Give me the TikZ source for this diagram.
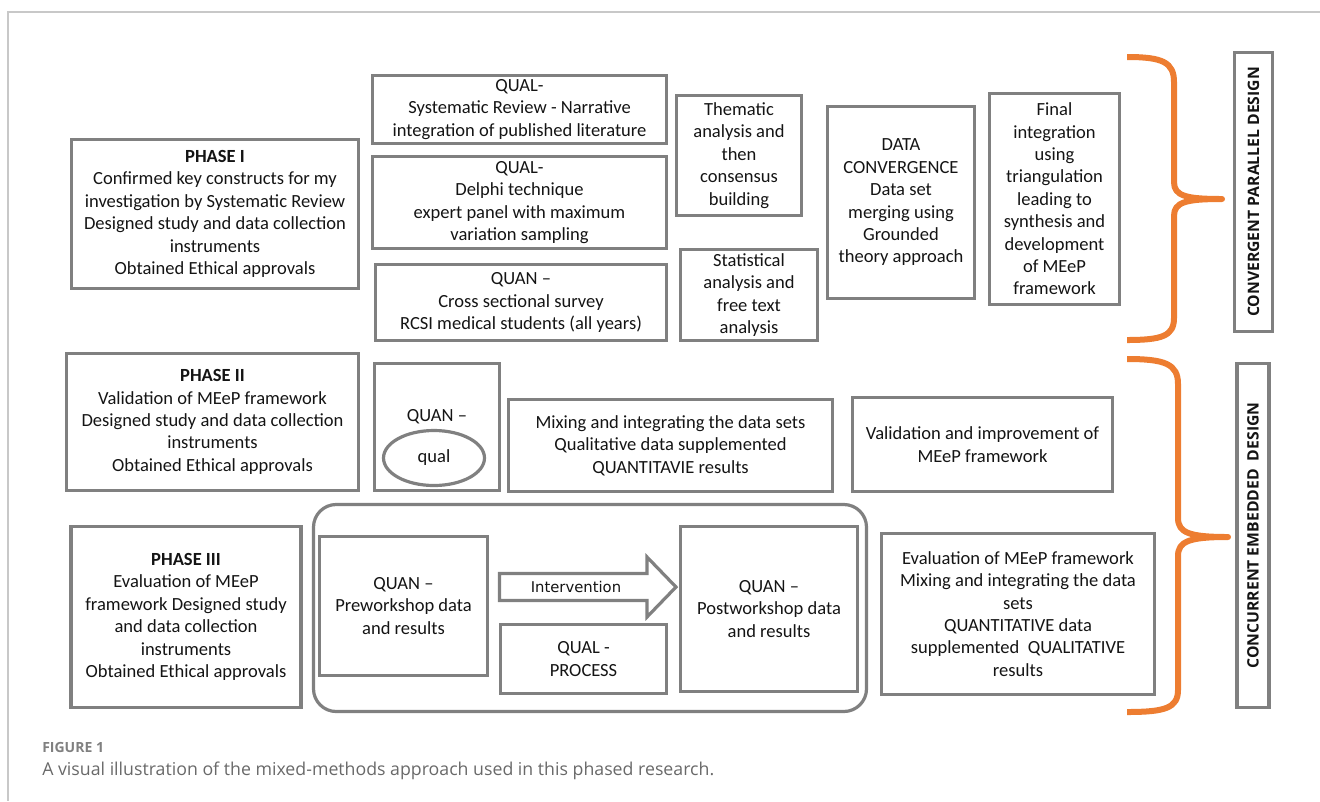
\documentclass[tikz,border=0pt]{standalone}
\usepackage{fontspec}
\setmainfont{Carlito}
\newfontfamily\designfont{Open Sans}
\newfontfamily\arrowfont{DejaVu Sans}
\newfontfamily\capfont{Open Sans}
\usetikzlibrary{shapes.geometric}

\definecolor{boxgray}{RGB}{128,128,128}
\definecolor{braceorange}{RGB}{237,125,49}
\definecolor{framegray}{RGB}{200,200,200}
\definecolor{capgray}{RGB}{105,105,105}

\tikzset{
  sz/.style 2 args={minimum width=#1*0.75pt,minimum height=#2*0.75pt},
  box/.style={draw=boxgray,line width=2.4pt,align=center,inner sep=0pt,
    text=black!92,font=\fontsize{13.9}{16.8}\selectfont},
  txt/.style={inner sep=0pt,align=center,text=black!92,font=\fontsize{13.9}{16.8}\selectfont},
  designbox/.style={draw=boxgray,line width=2.8pt,rotate=90,inner sep=0pt,
    text=black!92,font=\designfont\bfseries\fontsize{11.8}{13}\selectfont},
  brace/.style={draw=braceorange,line width=4.5pt,line join=round},
}

\begin{document}
\begin{tikzpicture}[x=0.75pt,y=-0.75pt]
\useasboundingbox (0,0) rectangle (1320,801);
\draw[framegray,line width=1.1pt] (1320,12) -- (8,12) -- (8,801);

% phase I
\node[box,sz={287}{149}] (ph1) at (215,214) {\textbf{PHASE I}\\Confirmed key constructs for my\\investigation by Systematic Review\\Designed study and data collection\\instruments\\Obtained Ethical approvals};
\node[box,sz={294}{68}] (qsr) at (519.5,109.5) {QUAL-\\Systematic Review - Narrative\\integration of published literature};
\node[box,sz={294}{92}] (qdel) at (519.5,202.5) {QUAL-\\Delphi technique\\expert panel with maximum\\variation sampling};
\node[box,sz={291}{76}] (qsurv) at (521,302.5) {QUAN –\\Cross sectional survey\\RCSI medical students (all years)};
\node[box,sz={125}{120}] (them) at (739,155.5) {Thematic\\analysis and\\then\\consensus\\building};
\node[box,sz={137}{91}] (stat) at (749,295) {Statistical\\analysis and\\free text\\analysis};
\node[box,sz={147}{192}] (conv) at (901,202.5) {DATA\\CONVERGENCE\\Data set\\merging using\\Grounded\\theory approach};
\node[box,sz={130}{211}] (final) at (1054.5,199) {Final\\integration\\using\\triangulation\\leading to\\synthesis and\\development\\of MEeP\\framework};

% phase II
\node[box,sz={292}{137}] (ph2) at (212.5,422) {\textbf{PHASE II}\\Validation of MEeP framework\\Designed study and data collection\\instruments\\Obtained Ethical approvals};
\node[box,sz={125}{127}] (quanq) at (437,427) {};
\node[txt] (quanlbl) at (437,417) {QUAN –};
\node[box,ellipse,sz={101}{55}] (qual) at (434,458) {qual};
\node[box,sz={324}{92}] (mix) at (670.5,445.5) {Mixing and integrating the data sets\\Qualitative data supplemented\\QUANTITAVIE results};
\node[box,sz={260}{94}] (valid) at (982.5,444.5) {Validation and improvement of\\MEeP framework};

% phase III
\node[box,sz={230}{181}] (ph3) at (186,617) {\textbf{PHASE III}\\Evaluation of MEeP\\framework Designed study\\and data collection\\instruments\\Obtained Ethical approvals};
\node[draw=boxgray,line width=2.4pt,rounded corners=17pt,sz={553}{207}] (wkshop) at (590,608) {};
\node[box,sz={168}{139}] (pre) at (403.5,606) {QUAN –\\Preworkshop data\\and results};
\draw[boxgray,line width=2.4pt,fill=white] (499.5,573.5) -- (647,573.5) -- (647,557) -- (676,587)
  -- (647,617) -- (647,600.5) -- (499.5,600.5) -- cycle;
\node[txt,font=\arrowfont\fontsize{11.1}{12}\selectfont] (interv) at (576,587) {Intervention};
\node[box,sz={166}{69}] (qproc) at (583.5,659) {QUAL -\\PROCESS};
\node[box,sz={177}{165}] (post) at (769,609) {QUAN –\\Postworkshop data\\and results};
\node[box,sz={273}{161}] (evalb) at (1018,614) {Evaluation of MEeP framework\\Mixing and integrating the data\\sets\\QUANTITATIVE data\\supplemented~ QUALITATIVE\\results};

% braces and design labels
\draw[brace] (1127,57) .. controls (1162,57) and (1174,62) .. (1174,82) -- (1174,182)
  .. controls (1174,196) and (1186,199) .. (1222,199)
  .. controls (1186,199) and (1174,202) .. (1174,216) -- (1174,318)
  .. controls (1174,336) and (1162,340) .. (1127,340);
\draw[brace] (1127,359) .. controls (1165,359) and (1178,364) .. (1178,384) -- (1178,518)
  .. controls (1178,533) and (1190,537) .. (1228,537)
  .. controls (1190,537) and (1178,541) .. (1178,556) -- (1178,690)
  .. controls (1178,708) and (1165,712) .. (1127,712);
\node[designbox,sz={279}{38}] (cpd) at (1253.5,192) {CONVERGENT PARALLEL DESIGN};
\node[designbox,sz={344}{32}] (ced) at (1253,535.5) {CONCURRENT EMBEDDED~ DESIGN};

% caption
\node[anchor=base west,inner sep=0pt,text=capgray!85,font=\capfont\bfseries\fontsize{10.5}{12}\selectfont] (figlbl) at (42,752) {FIGURE 1};
\node[anchor=base west,inner sep=0pt,text=capgray,font=\capfont\fontsize{13.3}{15}\selectfont] (figcap) at (42,775) {A visual illustration of the mixed-methods approach used in this phased research.};
\end{tikzpicture}
\end{document}
